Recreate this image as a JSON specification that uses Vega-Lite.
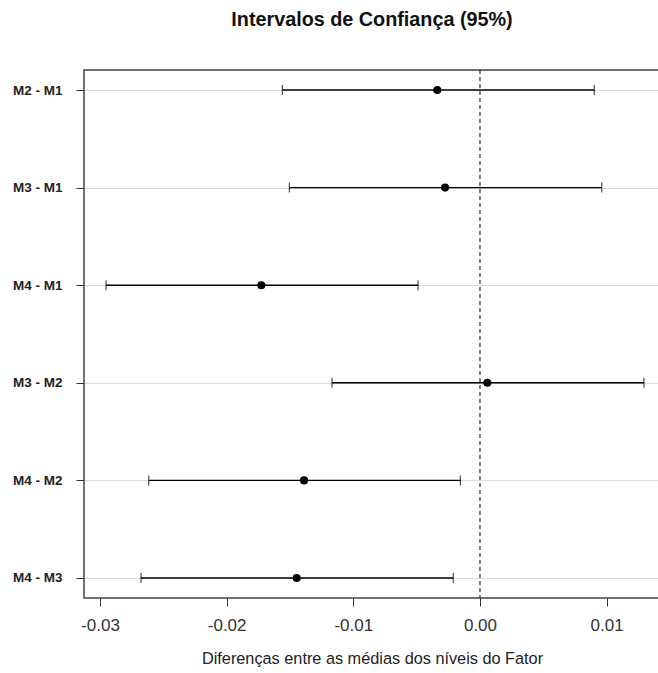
{
  "$schema": "https://vega.github.io/schema/vega-lite/v6.json",
  "width": 576,
  "height": 528,
  "autosize": "none",
  "padding": {"left": 84, "top": 70, "right": 0, "bottom": 75},
  "background": "white",
  "title": {
    "text": "Intervalos de Confiança (95%)",
    "fontSize": 19.8,
    "fontWeight": "bold",
    "font": "Liberation Sans",
    "color": "#111",
    "anchor": "middle",
    "baseline": "alphabetic",
    "offset": 24
  },
  "config": {
    "view": {"stroke": "#444", "strokeWidth": 1.5},
    "font": "Liberation Sans"
  },
  "datasets": {
    "ci": [
      {"comp": "M2 - M1", "lwr": -0.0156, "diff": -0.00337, "upr": 0.00902},
      {"comp": "M3 - M1", "lwr": -0.01505, "diff": -0.00276, "upr": 0.00961},
      {"comp": "M4 - M1", "lwr": -0.02952, "diff": -0.01726, "upr": -0.00489},
      {"comp": "M3 - M2", "lwr": -0.01168, "diff": 0.00058, "upr": 0.01294},
      {"comp": "M4 - M2", "lwr": -0.02615, "diff": -0.01389, "upr": -0.00155},
      {"comp": "M4 - M3", "lwr": -0.02676, "diff": -0.01447, "upr": -0.00211}
    ],
    "zero": [{"z": 0}]
  },
  "data": {"name": "ci"},
  "layer": [
    {
      "mark": {"type": "rule", "color": "black", "strokeWidth": 1.4},
      "encoding": {
        "y": {
          "field": "comp", "type": "nominal", "sort": null,
          "scale": {"type": "point", "padding": 0.205},
          "axis": {
            "title": null, "domain": false, "grid": true, "gridColor": "#d9d9d9", "gridWidth": 1,
            "ticks": true, "tickColor": "#333", "tickSize": 8, "tickWidth": 1,
            "labelFontWeight": "bold", "labelFontSize": 13.5, "labelColor": "#222", "labelPadding": 14
          }
        },
        "x": {
          "field": "lwr", "type": "quantitative",
          "scale": {"domain": [-0.03126, 0.01421], "nice": false, "zero": false},
          "axis": {
            "values": [-0.03, -0.02, -0.01, 0, 0.01],
            "labelExpr": "(datum.value < -0.000001 ? '-' : '') + format(abs(datum.value), '.2f')",
            "grid": false, "domain": false, "tickColor": "#333", "tickSize": 8, "tickWidth": 1,
            "labelFontSize": 17, "labelColor": "#333", "labelPadding": 11,
            "title": "Diferenças entre as médias dos níveis do Fator",
            "titleFontSize": 16.3, "titleFontWeight": "normal", "titleColor": "#222", "titlePadding": 17
          }
        },
        "x2": {"field": "upr"}
      }
    },
    {
      "mark": {"type": "tick", "color": "black", "size": 10, "thickness": 1.2},
      "encoding": {
        "y": {"field": "comp", "type": "nominal", "sort": null},
        "x": {"field": "lwr", "type": "quantitative"}
      }
    },
    {
      "mark": {"type": "tick", "color": "black", "size": 10, "thickness": 1.2},
      "encoding": {
        "y": {"field": "comp", "type": "nominal", "sort": null},
        "x": {"field": "upr", "type": "quantitative"}
      }
    },
    {
      "mark": {"type": "circle", "color": "black", "size": 65, "opacity": 1},
      "encoding": {
        "y": {"field": "comp", "type": "nominal", "sort": null},
        "x": {"field": "diff", "type": "quantitative"}
      }
    },
    {
      "data": {"name": "zero"},
      "mark": {"type": "rule", "color": "black", "strokeWidth": 1, "strokeDash": [4, 3]},
      "encoding": {
        "x": {"field": "z", "type": "quantitative"}
      }
    }
  ]
}
